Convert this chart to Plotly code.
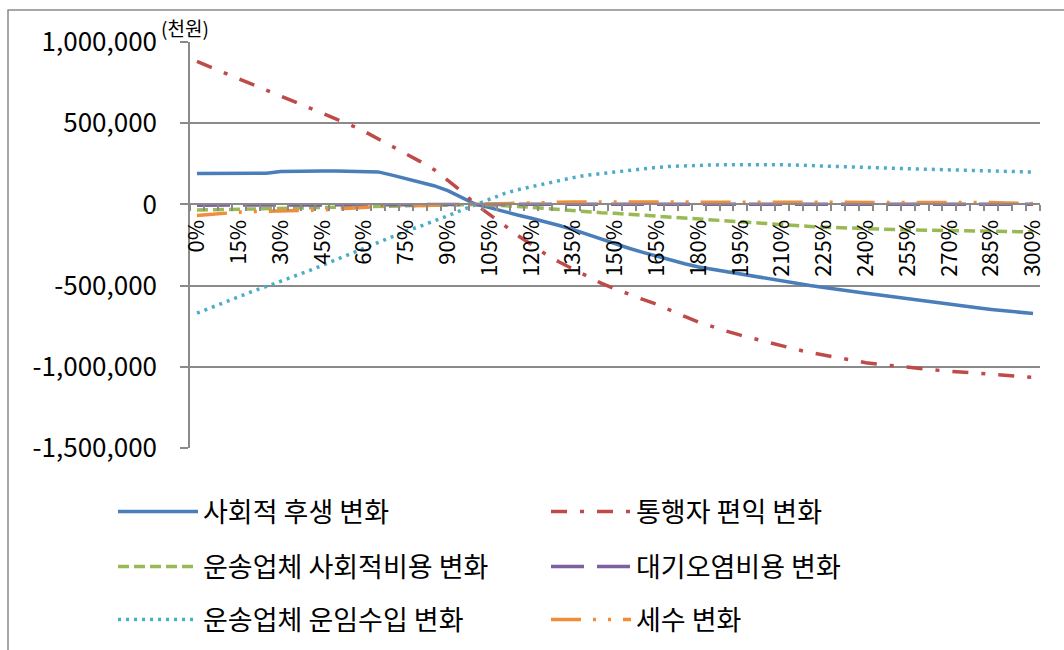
import plotly.graph_objects as go

# ---------------- data ----------------
categories = [f"{p}%" for p in range(0, 305, 5)]

welfare = [190, 190, 190, 190, 190, 192, 203, 205, 205, 205, 205, 205, 205, 200, 180, 160,
           140, 115, 85, 45, 0,
           -20, -45, -65, -85, -105, -130, -155, -185, -215, -245, -270, -295, -320, -345,
           -365, -385, -400, -415, -430, -445, -460, -475, -488, -500, -512, -522, -535,
           -547, -558, -570, -582, -594, -605, -616, -627, -637, -647, -656, -664, -672]

user_benefit = [880, 845, 810, 775, 740, 705, 670, 635, 600, 565, 530, 490, 450, 405, 360,
                315, 265, 215, 150, 80, 0,
                -60, -125, -190, -250, -305, -355, -400, -445, -485, -520, -555, -585, -615,
                -655, -690, -725, -755, -780, -805, -828, -850, -870, -893, -912, -928, -944,
                -958, -975, -985, -995, -1003, -1012, -1020, -1027, -1034, -1040, -1046,
                -1052, -1058, -1065]

carrier_social_cost = [-35, -33, -32, -30, -28, -26, -25, -23, -21, -19, -18, -16, -14, -12,
                       -11, -9, -7, -5, -4, -2, 0,
                       -3, -7, -12, -18, -25, -32, -40, -46, -51, -55, -61, -67, -73, -80,
                       -86, -92, -98, -104, -110, -116, -121, -126, -131, -136, -140, -144,
                       -147, -150, -153, -155, -157, -159, -161, -162, -164, -165, -166,
                       -167, -168, -169]

air_pollution_cost = [-5, -5, -5, -5, -5, -4, -4, -4, -4, -4, -3, -3, -3, -3, -3, -2, -2, -2,
                      -1, -1, 0,
                      0, 0, 1, 1, 1, 1, 1, 1, 1, 1, 1, 1, 1, 1, 1, 1, 1, 1, 1, 1, 1, 1, 1, 1,
                      1, 1, 1, 1, 1, 1, 1, 1, 1, 1, 1, 1, 1, 1, 1, 1]

carrier_revenue = [-670, -635, -600, -570, -535, -505, -475, -440, -410, -375, -340, -300,
                   -265, -230, -195, -165, -135, -105, -70, -35, 0,
                   30, 65, 90, 110, 130, 150, 165, 180, 190, 200, 210, 220, 228, 234, 238,
                   241, 243, 244, 245, 245, 245, 244, 242, 240, 237, 234, 231, 228, 225, 222,
                   220, 218, 216, 214, 212, 209, 206, 203, 201, 199]

tax_revenue = [-68, -60, -53, -48, -44, -42, -41, -40, -38, -34, -28, -22, -18, -14, -11, -9,
               -7, -5, -3, -2, 0,
               4, 8, 11, 13, 14, 15, 15, 15, 15, 15, 15, 15, 15, 15, 15, 15, 15, 15, 15, 15,
               15, 15, 15, 15, 15, 15, 15, 15, 15, 15, 15, 15, 15, 15, 14, 13, 11, 9, 7, 5]

series_names = ["사회적 후생 변화", "통행자 편익 변화", "운송업체 사회적비용 변화",
                "대기오염비용 변화", "운송업체 운임수입 변화", "세수 변화"]

y_tick_vals = [1000000, 500000, 0, -500000, -1000000, -1500000]
y_tick_text = ["1,000,000", "500,000", "0", "-500,000", "-1,000,000", "-1,500,000"]
unit_label = "(천원)"

# ---------------- figure ----------------
FONT = "Noto Sans CJK KR, Noto Sans, sans-serif"
GRID = "#8a8a8a"

x_idx = list(range(len(categories)))

styles = [
    ("#4A7EBB", "solid", "legend"),
    ("#BE4B48", "16px,13px,4px,13px", "legend"),
    ("#98B954", "11px,5px", "legend2"),
    ("#7D60A0", "33px,13px", "legend2"),
    ("#4BACC6", "3px,5px", "legend3"),
    ("#F08C3A", "30px,12px,3px,12px,3px,12px", "legend3"),
]
data = [welfare, user_benefit, carrier_social_cost, air_pollution_cost,
        carrier_revenue, tax_revenue]

fig = go.Figure()
for name, vals, (color, dash, leg) in zip(series_names, data, styles):
    fig.add_trace(go.Scatter(
        x=x_idx, y=[v * 1000 for v in vals], mode="lines", name=name,
        line=dict(color=color, width=3.5, dash=dash),
        legend=leg, hoverinfo="skip",
    ))

L, R, T, B = 190, 24, 42, 202
W, H = 1064, 650
pw, ph = W - L - R, H - T - B

def px_x(px):
    return (px - L) / pw

def px_y(py):
    return (H - B - py) / ph

def legend_cfg(y_px):
    return dict(
        x=px_x(113), y=px_y(y_px),
        orientation="h", xanchor="left", yanchor="middle",
        entrywidth=338, entrywidthmode="pixels", itemwidth=80,
        font=dict(family=FONT, size=27, color="#000000"),
        bgcolor="rgba(0,0,0,0)", borderwidth=0, traceorder="normal",
        itemclick=False, itemdoubleclick=False,
    )

fig.update_layout(
    width=W, height=H,
    margin=dict(l=L, r=R, t=T, b=B, autoexpand=False),
    paper_bgcolor="white", plot_bgcolor="white",
    font=dict(family=FONT, color="#000000"),
    showlegend=True,
    legend=legend_cfg(512),
    legend2=legend_cfg(567),
    legend3=legend_cfg(620),
    xaxis=dict(
        range=[-0.5, len(categories) - 0.5],
        anchor="free", position=0.6,
        showline=True, linecolor=GRID, linewidth=1.5,
        showgrid=False, zeroline=False,
        tickmode="array",
        tickvals=x_idx[::3], ticktext=categories[::3],
        tickangle=-90, ticks="", ticklen=0,
        ticklabelstandoff=6,
        tickfont=dict(family=FONT, size=22, color="#000000"),
        minor=dict(ticks="outside", tickmode="linear", tick0=-0.5, dtick=1,
                   ticklen=6, tickcolor=GRID, tickwidth=1.5, showgrid=False),
    ),
    yaxis=dict(
        range=[-1500000, 1000000],
        tickmode="array", tickvals=y_tick_vals, ticktext=y_tick_text,
        showline=True, linecolor=GRID, linewidth=1.5,
        showgrid=True, gridcolor=GRID, gridwidth=1.5, zeroline=False,
        ticks="outside", ticklen=8, tickcolor=GRID, tickwidth=1.5,
        ticklabelstandoff=18,
        tickfont=dict(family=FONT, size=26, color="#000000"),
    ),
    annotations=[dict(
        text=unit_label, xref="paper", yref="paper",
        x=px_x(159), y=px_y(27), xanchor="left", yanchor="middle",
        showarrow=False, font=dict(family=FONT, size=19, color="#000000"),
    )],
    shapes=[dict(
        type="rect", xref="paper", yref="paper",
        x0=px_x(8), x1=px_x(1080), y0=px_y(670), y1=px_y(10),
        line=dict(color="#8a8a8a", width=1.5), fillcolor="rgba(0,0,0,0)",
        layer="below",
    )],
)

fig.write_html("out.html")
